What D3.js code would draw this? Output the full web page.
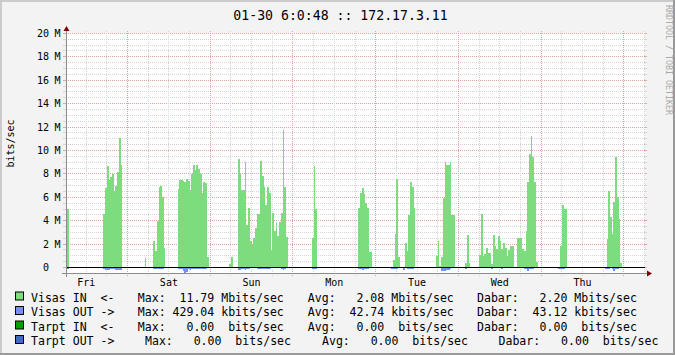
<!DOCTYPE html>
<html>
<head>
<meta charset="utf-8">
<script src="https://cdn.jsdelivr.net/npm/d3@7"></script>
<style>
  body { margin: 0; background: #f3f3f3; }
  svg text { font-family: "DejaVu Sans Mono", monospace; white-space: pre; }
</style>
</head>
<body>
<svg id="chart" width="675" height="355"></svg>
<script>
// 30 minute averages, Mbits/sec, from Fri 06:00 to next Fri 06:00 (12 hours per line)
var inMbits = [
  0,5.0,0,0,0,0,0,0,0,0,0,0,0,0,0,0,0,0,0,0,0,0,4.6,6.8,
  8.7,7.5,7.7,8.0,6.5,7.0,8.2,11.1,8.8,0,0,0,0,0,0,0,0,0,0,0,0,0,0.85,0,
  0,0,0,2.3,1.4,4.0,6.9,7.0,6.0,1.7,0,0,0,0,0,0,0,6.7,7.5,7.5,7.4,7.3,7.6,7.4,
  6.6,8.0,8.8,8.3,8.8,8.4,8.0,6.4,7.3,7.2,0.9,0,0,0,0,0,0,0,0,0,0,0,0,0.3,
  0.9,0,0,0,9.3,8.0,6.6,6.6,9.0,3.6,5.1,2.3,1.9,2.5,3.4,4.6,4.6,9.1,7.8,6.9,5.3,6.9,6.4,1.5,
  4.7,3.1,3.9,2.7,3.9,4.7,11.79,6.9,2.6,0,0,0,0,0,0,0,0,0,0,0,0,0,0,2.5,
  8.7,5.0,0,0,0,0,0,0,0,0,0,0,0,0,0,0,0,0,0,0,0,0,0,0,
  0,0,5.1,6.4,6.8,6.3,5.5,5.1,1.3,1.3,0,0,0,0,0,0,0,0,0,0,0,0,0.65,2.85,7.6,
  0.9,0,0,0,2.1,1.4,4.5,7.3,6.9,5.1,0,0,0,0,0,0,0,0,0,0,0,0,1.0,2.3,
  0.15,0.9,5.9,9.0,8.8,8.8,9.0,4.5,4.5,0,0,0,0,0,0,0.35,2.75,0.35,0,0,0,0,0,1.05,
  4.6,1.0,1.15,1.7,1.2,1.2,0.3,2.8,1.8,1.6,2.7,2.3,1.6,2.1,1.65,1.0,1.5,1.85,1.85,0,0,2.5,2.5,2.5,
  1.55,1.45,3.1,7.3,9.7,11.2,9.4,7.3,0.45,0,0,0,0,0,0,0,0,0,0,0,0,0,1.85,5.35,
  5.0,5.0,0,0,0,0,0,0,0,0,0,0,0,0,0,0,0,0,0,0,0,0,0,0,
  0,2.4,6.5,4.35,2.85,5.6,9.4,6.0,4.15,0.4,0,0,0,0,0,0,0,0,0,0,0,0,0,2.2
];
var outMbits = [
  0,0.05,0,0,0,0,0,0,0,0,0,0,0,0,0,0,0,0,0,0,0,0,0.15,0.2,
  0.2,0.2,0.15,0.15,0.1,0.2,0.2,0.2,0.2,0,0,0,0,0,0,0,0,0,0,0,0,0,0,0,
  0,0,0,0.1,0.1,0.1,0.1,0.1,0.1,0,0,0,0,0,0,0,0,0.1,0.1,0.1,0.3,0.43,0.35,0.15,
  0.25,0.1,0.15,0.1,0.15,0.1,0.15,0.1,0.15,0.1,0,0,0,0,0,0,0,0,0,0,0,0,0,0,
  0,0,0,0,0.2,0.2,0.1,0.1,0.2,0.05,0.05,0,0,0,0,0.05,0.05,0.15,0.1,0.1,0.15,0.1,0.15,0,
  0,0,0,0,0,0.1,0.2,0.15,0,0,0,0,0,0,0,0,0,0,0,0,0,0,0,0.15,
  0.15,0.05,0,0,0,0,0,0,0,0,0,0,0,0,0,0,0,0,0,0,0,0,0,0,
  0,0,0.1,0.15,0.2,0.15,0.1,0.1,0,0,0,0,0,0,0,0,0,0,0,0,0,0.05,0.15,0.15,
  0.05,0,0,0,0.2,0,0.1,0.15,0.1,0.05,0,0,0,0,0,0,0,0,0,0,0,0,0,0,
  0,0,0.3,0.3,0.3,0.25,0.2,0.1,0,0,0,0,0,0,0,0,0.05,0,0,0,0,0,0,0,
  0,0,0,0,0,0,0,0.05,0,0,0,0,0,0.05,0,0,0,0,0,0,0,0,0,0,
  0,0,0.1,0.15,0.3,0.15,0.15,0.1,0,0,0,0,0,0,0,0,0,0,0,0,0,0,0.1,0.1,
  0.1,0.1,0,0,0,0,0,0,0,0,0,0,0,0,0,0,0,0,0,0,0,0,0,0,
  0,0.05,0.1,0.1,0,0.1,0.3,0.1,0.1,0,0,0,0,0,0,0,0,0,0,0,0,0,0,0
];

var yTicks = [0, 2, 4, 6, 8, 10, 12, 14, 16, 18, 20];   // Mbits/sec
var titleText = "01-30 6:0:48 :: 172.17.3.11";
var yTitle = "bits/sec";
var watermark = "RRDTOOL / TOBI OETIKER";

var legendNames  = ["Visas IN  <-", "Visas OUT ->", "Tarpt IN  <-", "Tarpt OUT ->"];
var legendColors = ["#7ddc7d", "#7b8cf5", "#00a000", "#4169c8"];
var legendUnits  = ["M", "k", " ", " "];
var maxVals = [11.79, 429.04, 0, 0];
var avgVals = [2.08, 42.74, 0, 0];
var curVals = [2.20, 43.12, 0, 0];

var svg = d3.select("#chart");
var W = 675, H = 355;
var pLeft = 66, pRight = 645, pTop = 33, pBottom = 273;

var t0 = new Date(2015, 0, 23, 6, 0, 0);
var t1 = d3.timeHour.offset(t0, 168);
var x = d3.scaleTime().domain([t0, t1]).range([65.5, 644.5]);
var y = d3.scaleLinear().domain([-0.5, 20]).range([273.4, 33.4]);
var crisp = function(v) { return Math.floor(v) + 0.5; };

// background and 3d frame
svg.append("rect").attr("width", W).attr("height", H).attr("fill", "#f3f3f3");
svg.append("path").attr("d", "M0,0H675V2H2V355H0Z").attr("fill", "#cbcbcb");
svg.append("path").attr("d", "M675,0V355H0V353H673V0Z").attr("fill", "#999999");

// canvas
svg.append("rect").attr("x", pLeft).attr("y", pTop)
  .attr("width", pRight - pLeft).attr("height", pBottom - pTop).attr("fill", "#ffffff");

// horizontal grid
var grid = svg.append("g").attr("shape-rendering", "crispEdges");
d3.range(0, 20.01, 0.5).forEach(function(v) {
  var major = (v % 2 === 0);
  var py = crisp(y(v));
  var col = major ? "#e3a3a3" : "#d4d4d4";
  grid.append("line").attr("x1", pLeft - 3).attr("x2", pLeft).attr("y1", py).attr("y2", py)
    .attr("stroke", col);
  grid.append("line").attr("x1", pRight).attr("x2", pRight + 2).attr("y1", py).attr("y2", py)
    .attr("stroke", col);
  grid.append("line").attr("x1", pLeft).attr("x2", pRight).attr("y1", py).attr("y2", py)
    .attr("stroke", col).attr("stroke-dasharray", "1,1");
});

// vertical grid every 6 hours, major at midnight
d3.timeHour.every(6).range(t0, d3.timeMinute.offset(t1, 1)).forEach(function(t) {
  var px = x(t);
  if (px < pLeft + 1) return;
  px = crisp(px);
  var major = t.getHours() === 0;
  var col = major ? "#e3a3a3" : "#d4d4d4";
  grid.append("line").attr("x1", px).attr("x2", px).attr("y1", pTop - 2).attr("y2", pBottom + 3)
    .attr("stroke", col).attr("stroke-dasharray", "1,1");
});

// data: one pixel-snapped column per 30 minute step, like rrdtool
var times = inMbits.map(function(d, i) { return d3.timeMinute.offset(t0, 30 * i); });
var y0px = Math.round(y(0));
function columns(vals, sign, color) {
  var g = plot.append("g").attr("fill", color);
  g.selectAll("rect")
    .data(vals.map(function(v, i) { return { i: i, v: v }; }).filter(function(d) { return d.v > 0; }))
    .enter().append("rect")
    .attr("x", function(d) { return Math.max(pLeft + 1, Math.round(x(times[d.i]))); })
    .attr("width", function(d) {
      var a = Math.max(pLeft + 1, Math.round(x(times[d.i])));
      var b = Math.round(x(d.i + 1 < times.length ? times[d.i + 1] : t1));
      return Math.max(0, b - a);
    })
    .attr("y", function(d) { return sign > 0 ? Math.round(y(d.v)) : y0px; })
    .attr("height", function(d) {
      return sign > 0 ? y0px - Math.round(y(d.v)) : Math.max(1, Math.round(y(-d.v)) - y0px);
    });
}
var plot = svg.append("g");
columns(inMbits, 1, legendColors[0]);
columns(outMbits, -1, legendColors[1]);

// zero line
svg.append("line").attr("x1", pLeft).attr("x2", pRight)
  .attr("y1", crisp(y(0))).attr("y2", crisp(y(0)))
  .attr("stroke", "#000");

// axes
svg.append("line").attr("x1", pLeft - 4).attr("x2", pRight + 4)
  .attr("y1", pBottom + 0.5).attr("y2", pBottom + 0.5).attr("stroke", "#8c8c8c");
svg.append("line").attr("x1", pLeft + 0.5).attr("x2", pLeft + 0.5)
  .attr("y1", pBottom + 4).attr("y2", pTop - 4).attr("stroke", "#8c8c8c");
svg.append("path")
  .attr("d", "M" + (pRight + 2) + "," + (pBottom - 2.5) + "L" + (pRight + 2) + "," + (pBottom + 3.5) +
             "L" + (pRight + 7) + "," + (pBottom + 0.5) + "Z")
  .attr("fill", "#7f0000");
svg.append("path")
  .attr("d", "M" + (pLeft - 2.5) + "," + (pTop - 2) + "L" + (pLeft + 3.5) + "," + (pTop - 2) +
             "L" + (pLeft + 0.5) + "," + (pTop - 7) + "Z")
  .attr("fill", "#7f0000");

// y labels
var yl = svg.append("g").attr("font-size", "10px").attr("fill", "#000");
yTicks.forEach(function(v) {
  yl.append("text").attr("x", 49).attr("y", y(v)).attr("dy", "0.35em")
    .attr("text-anchor", "end").text(v);
  if (v !== 0) {
    yl.append("text").attr("x", 54.6).attr("y", y(v)).attr("dy", "0.35em").text("M");
  }
});

// day labels at noon
var dayFmt = d3.timeFormat("%a");
d3.timeDay.range(d3.timeDay.floor(t0), t1).forEach(function(d) {
  var noon = d3.timeHour.offset(d, 12);
  if (noon < t0 || noon > t1) return;
  svg.append("text").attr("x", x(noon)).attr("y", 285.5)
    .attr("text-anchor", "middle").attr("font-size", "10px").text(dayFmt(noon));
});

// title, unit label, watermark
svg.append("text").attr("x", 340.5).attr("y", 19.5).attr("text-anchor", "middle")
  .attr("font-size", "13.2px").text(titleText);
svg.append("text").attr("transform", "translate(10.5,143.5) rotate(-90)")
  .attr("text-anchor", "middle").attr("dy", "0.35em").attr("font-size", "10px").text(yTitle);
svg.append("text").attr("transform", "translate(669,60) rotate(90)")
  .attr("text-anchor", "middle").attr("dy", "0.35em").attr("font-size", "8.3px")
  .attr("fill", "#aaaaaa").text(watermark);

// legend
var f6 = d3.format("6.2f");
var rowY = [301.5, 316, 330.5, 345];
var colX = [[137.8, 307.8, 477], [137.8, 307.8, 477], [137.8, 307.8, 477], [145, 322, 498.5]];
var lg = svg.append("g").attr("font-size", "11.56px").attr("fill", "#000");
legendNames.forEach(function(name, i) {
  var by = rowY[i];
  lg.append("rect").attr("x", 15.5).attr("y", by - 9.5).attr("width", 8).attr("height", 8)
    .attr("fill", legendColors[i]).attr("stroke", "#000");
  lg.append("text").attr("x", 31).attr("y", by).attr("xml:space", "preserve").text(name);
  var u = legendUnits[i];
  var segs = [
    "Max: " + f6(maxVals[i]) + " " + u + "bits/sec",
    "Avg: " + f6(avgVals[i]) + " " + u + "bits/sec",
    "Dabar: " + f6(curVals[i]) + " " + u + "bits/sec"
  ];
  segs.forEach(function(s, j) {
    lg.append("text").attr("x", colX[i][j]).attr("y", by).attr("xml:space", "preserve").text(s);
  });
});
</script>
</body>
</html>
